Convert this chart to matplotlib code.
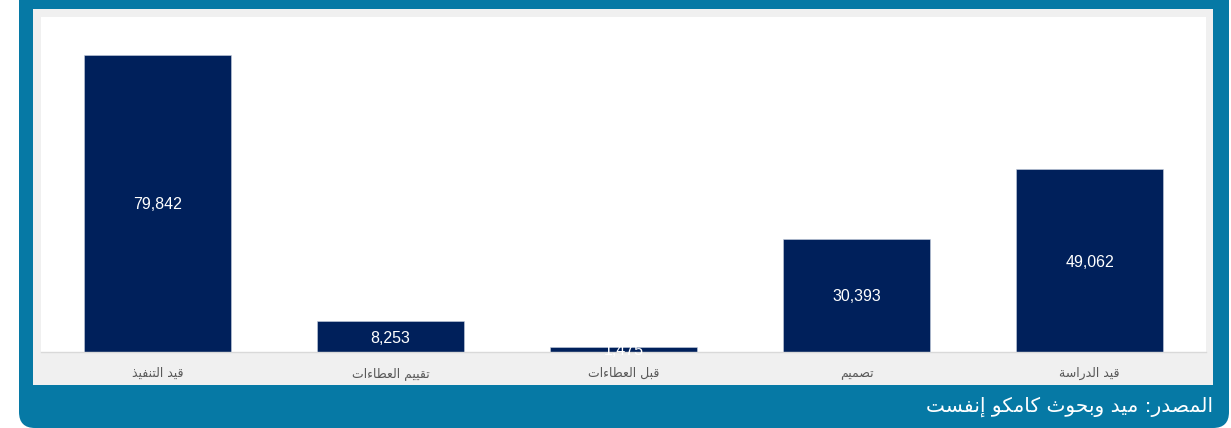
#!/usr/bin/env python3
# -*- coding: utf-8 -*-
"""
Projects by stage - bar chart in a blue frame (Arabic labels).
"""

# %% import
import matplotlib
matplotlib.use('Agg')
import matplotlib.pyplot as plt
from matplotlib.patches import FancyBboxPatch, Rectangle

# %% Data
categories = ['قيد التنفيذ', 'تقييم العطاءات', 'قبل العطاءات', 'تصميم', 'قيد الدراسة']
values = [79842, 8253, 1475, 30393, 49062]
source_text = 'المصدر: ميد وبحوث كامكو إنفست'

# %% Arabic shaping (matplotlib does no joining / bidi, so do it by hand)
# letter: (isolated, final, initial, medial) - None means no such form
FORMS = {
    'ء': (0xFE80, None, None, None),
    'آ': (0xFE81, 0xFE82, None, None),
    'أ': (0xFE83, 0xFE84, None, None),
    'إ': (0xFE87, 0xFE88, None, None),
    'ا': (0xFE8D, 0xFE8E, None, None),
    'ب': (0xFE8F, 0xFE90, 0xFE91, 0xFE92),
    'ة': (0xFE93, 0xFE94, None, None),
    'ت': (0xFE95, 0xFE96, 0xFE97, 0xFE98),
    'ث': (0xFE99, 0xFE9A, 0xFE9B, 0xFE9C),
    'ح': (0xFEA1, 0xFEA2, 0xFEA3, 0xFEA4),
    'د': (0xFEA9, 0xFEAA, None, None),
    'ذ': (0xFEAB, 0xFEAC, None, None),
    'ر': (0xFEAD, 0xFEAE, None, None),
    'س': (0xFEB1, 0xFEB2, 0xFEB3, 0xFEB4),
    'ص': (0xFEB9, 0xFEBA, 0xFEBB, 0xFEBC),
    'ط': (0xFEC1, 0xFEC2, 0xFEC3, 0xFEC4),
    'ع': (0xFEC9, 0xFECA, 0xFECB, 0xFECC),
    'ف': (0xFED1, 0xFED2, 0xFED3, 0xFED4),
    'ق': (0xFED5, 0xFED6, 0xFED7, 0xFED8),
    'ك': (0xFED9, 0xFEDA, 0xFEDB, 0xFEDC),
    'ل': (0xFEDD, 0xFEDE, 0xFEDF, 0xFEE0),
    'م': (0xFEE1, 0xFEE2, 0xFEE3, 0xFEE4),
    'ن': (0xFEE5, 0xFEE6, 0xFEE7, 0xFEE8),
    'ه': (0xFEE9, 0xFEEA, 0xFEEB, 0xFEEC),
    'و': (0xFEED, 0xFEEE, None, None),
    'ي': (0xFEF1, 0xFEF2, 0xFEF3, 0xFEF4),
}


def joins_next(ch):
    return ch in FORMS and FORMS[ch][2] is not None


def joins_prev(ch):
    return ch in FORMS and FORMS[ch][1] is not None


def shape_arabic(s):
    out = []
    for i, ch in enumerate(s):
        if ch not in FORMS:
            out.append(ch)
            continue
        prev = s[i - 1] if i > 0 else ''
        nxt = s[i + 1] if i + 1 < len(s) else ''
        p = joins_next(prev) and joins_prev(ch)
        n = joins_next(ch) and joins_prev(nxt)
        iso, fin, ini, med = FORMS[ch]
        if p and n:
            code = med
        elif p:
            code = fin
        elif n:
            code = ini
        else:
            code = iso
        out.append(chr(code))
    return ''.join(reversed(out))


# %% Colours
frame_blue = '#0679a5'
bar_navy = '#00205b'
panel_grey = '#f0f0f0'

W, H = 1231, 428
fig = plt.figure(figsize=(W / 100, H / 100), dpi=100)
fig.patch.set_facecolor('white')

# background axes in pixel units (y down)
bg = fig.add_axes([0, 0, 1, 1])
bg.set_xlim(0, W)
bg.set_ylim(H, 0)
bg.axis('off')
bg.add_patch(FancyBboxPatch((19, -60), 1210, 488, boxstyle='round,pad=0,rounding_size=16',
                            facecolor=frame_blue, edgecolor='none'))
bg.add_patch(Rectangle((33, 9), 1180, 376, facecolor=panel_grey, edgecolor='none'))
bg.text(1213, 407, shape_arabic(source_text), color='white', fontsize=14.5,
        ha='right', va='center', family=['DejaVu Sans'])

# %% chart axes
ax = fig.add_axes([41 / W, (H - 352) / H, 1165 / W, 335 / H])
ax.set_facecolor('white')
x = list(range(len(categories)))
bars = ax.bar(x, values, width=0.63, color=bar_navy, edgecolor='#c8d0e0', linewidth=0.4)
ax.set_xlim(-0.5, len(categories) - 0.5)
ax.set_ylim(0, 90050)
ax.set_yticks([])
for side in ['top', 'left', 'right']:
    ax.spines[side].set_visible(False)
ax.spines['bottom'].set_color('#d9d9d9')
ax.spines['bottom'].set_linewidth(1)
ax.set_xticks(x)
ax.set_xticklabels([shape_arabic(c) for c in categories], fontsize=9, color='#595959',
                   family=['DejaVu Sans'])
ax.tick_params(axis='x', length=0, pad=11)

for rect, v in zip(bars, values):
    ax.text(rect.get_x() + rect.get_width() / 2, v / 2, f'{v:,}', color='white',
            fontsize=11.5, ha='center', va='center_baseline',
            family=['Liberation Sans', 'DejaVu Sans'])

fig.savefig('out.png', dpi=100, facecolor=fig.get_facecolor())
